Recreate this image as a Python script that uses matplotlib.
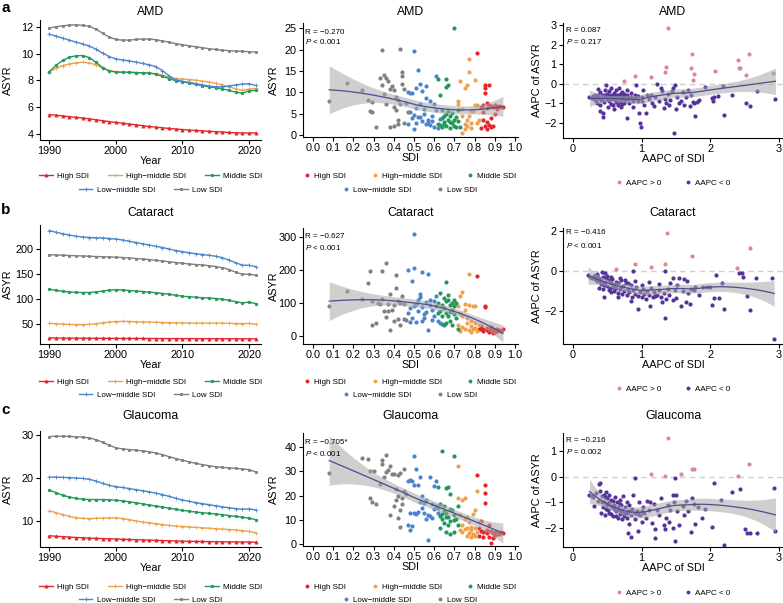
import numpy as np
import matplotlib
matplotlib.use('Agg')
import matplotlib.pyplot as plt
from matplotlib.lines import Line2D

plt.rcParams['font.family'] = ['Liberation Sans', 'DejaVu Sans']
plt.rcParams['mathtext.fontset'] = 'custom'
plt.rcParams['mathtext.it'] = 'Liberation Sans:italic'
plt.rcParams['mathtext.rm'] = 'Liberation Sans'

# ---------------- data ----------------
years = list(range(1990, 2022))
groups = ['High SDI', 'High\u2212middle SDI', 'Middle SDI', 'Low\u2212middle SDI', 'Low SDI']

amd_high = [5.45,5.40,5.35,5.29,5.24,5.19,5.13,5.06,4.99,4.92,4.86,4.80,4.74,4.68,4.62,4.56,4.51,4.46,4.41,4.37,4.33,4.29,4.26,4.23,4.20,4.17,4.14,4.11,4.09,4.07,4.07,4.08]
amd_hm = [8.65,8.90,9.10,9.22,9.30,9.35,9.30,9.15,8.92,8.72,8.65,8.62,8.60,8.57,8.55,8.55,8.50,8.38,8.24,8.13,8.10,8.06,8.01,7.94,7.87,7.78,7.66,7.52,7.37,7.25,7.35,7.40]
amd_mid = [8.65,9.12,9.48,9.72,9.83,9.85,9.70,9.35,8.95,8.70,8.62,8.60,8.60,8.58,8.56,8.54,8.45,8.30,8.12,7.97,7.90,7.80,7.70,7.60,7.52,7.45,7.36,7.25,7.12,7.05,7.22,7.25]
amd_lm = [11.45,11.30,11.15,11.00,10.85,10.72,10.56,10.32,10.03,9.77,9.60,9.52,9.45,9.36,9.26,9.16,9.02,8.73,8.33,8.03,7.92,7.85,7.76,7.66,7.57,7.52,7.52,7.57,7.66,7.72,7.75,7.62]
amd_low = [11.90,12.00,12.06,12.12,12.14,12.10,12.03,11.82,11.52,11.22,11.05,11.00,11.00,11.05,11.08,11.08,11.03,10.94,10.84,10.74,10.65,10.58,10.50,10.43,10.36,10.30,10.25,10.21,10.19,10.16,10.14,10.10]

cat_high = [22.2,22.0,21.9,21.8,21.7,21.6,21.5,21.5,21.4,21.4,21.3,21.2,21.2,21.1,21.1,21.0,21.0,20.9,20.9,20.8,20.8,20.7,20.7,20.6,20.6,20.5,20.5,20.4,20.4,20.3,20.4,20.3]
cat_hm = [51.5,50.6,49.8,49.2,48.9,48.8,49.2,50.5,52.3,54.0,55.0,55.2,55.0,54.6,54.2,53.8,53.4,53.0,52.6,52.3,52.0,51.9,51.8,51.8,51.8,51.8,51.7,51.4,51.0,50.8,51.2,49.5]
cat_mid = [119.5,117.5,115.5,114.0,113.2,113.0,113.0,114.0,116.0,117.8,118.5,118.0,117.0,116.0,115.0,113.8,112.5,111.0,109.5,107.5,105.5,104.5,103.5,102.5,101.8,101.0,99.5,97.5,94.5,92.5,93.5,91.0]
cat_lm = [237.0,233.5,230.5,228.0,225.5,224.0,223.0,222.5,222.0,221.0,220.0,218.0,215.5,213.0,210.5,208.0,205.5,203.0,200.0,197.0,194.5,192.5,190.5,189.0,187.5,185.5,182.5,178.0,172.5,167.5,167.5,165.0]
cat_low = [188.5,188.0,187.5,187.0,186.5,186.0,185.5,185.0,184.5,184.0,183.5,183.0,182.0,181.0,180.0,179.0,177.5,176.0,174.5,173.0,171.5,170.0,169.0,168.0,166.5,165.0,162.5,159.0,153.5,149.5,149.5,147.5]

gla_high = [6.6,6.5,6.4,6.3,6.2,6.15,6.05,6.0,5.95,5.9,5.85,5.8,5.75,5.7,5.65,5.6,5.55,5.5,5.45,5.4,5.35,5.32,5.3,5.28,5.25,5.22,5.2,5.18,5.16,5.15,5.15,5.1]
gla_hm = [12.4,11.95,11.5,11.1,10.8,10.65,10.6,10.65,10.7,10.75,10.75,10.6,10.35,10.05,9.8,9.6,9.4,9.2,9.0,8.85,8.75,8.65,8.55,8.45,8.35,8.25,8.15,8.05,7.95,7.8,7.6,7.3]
gla_mid = [17.2,16.6,16.0,15.6,15.25,15.1,15.0,15.0,15.0,14.95,14.85,14.7,14.5,14.25,14.0,13.75,13.5,13.25,13.0,12.75,12.5,12.3,12.1,11.95,11.8,11.65,11.5,11.3,11.1,10.9,10.7,10.35]
gla_lm = [20.2,20.2,20.15,20.1,20.0,19.9,19.7,19.3,18.75,18.3,18.0,17.8,17.55,17.3,17.05,16.8,16.5,16.15,15.75,15.3,14.9,14.6,14.3,14.05,13.8,13.55,13.3,13.1,12.9,12.75,12.85,12.6]
gla_low = [29.6,29.7,29.7,29.65,29.55,29.5,29.3,28.9,28.3,27.6,27.0,26.75,26.6,26.45,26.3,26.1,25.8,25.4,24.95,24.5,24.1,23.75,23.4,23.1,22.85,22.6,22.45,22.35,22.25,22.1,21.95,21.4]

# SDI vs ASYR scatter (SDI, ASYR) per SDI group
amd_sc_high = [(0.81,19.2),(0.83,6.6),(0.84,7.0),(0.84,3.6),(0.85,11.7),(0.85,10.9),(0.85,9.8),(0.85,2.2),(0.86,7.5),(0.86,6.2),(0.87,7.0),(0.87,11.8),(0.87,2.4),(0.88,6.8),(0.88,4.0),(0.89,6.6),(0.89,2.1),(0.90,6.9),(0.90,4.8),(0.91,6.5),(0.91,6.0),(0.92,6.7),(0.93,6.5),(0.94,6.5),(0.83,1.6),(0.86,1.5),(0.88,1.9),(0.84,5.4),(0.86,3.0)]
amd_sc_hm = [(0.72,8.0),(0.72,7.2),(0.73,12.6),(0.74,6.1),(0.74,0.5),(0.75,11.0),(0.75,2.6),(0.76,11.6),(0.76,2.2),(0.77,17.8),(0.77,14.8),(0.77,4.4),(0.78,1.6),(0.78,2.9),(0.79,5.6),(0.80,7.0),(0.80,12.9),(0.81,7.1),(0.81,2.7),(0.82,3.6),(0.74,4.4),(0.76,3.5),(0.78,5.5),(0.75,1.3)]
amd_sc_mid = [(0.62,13.2),(0.63,9.3),(0.63,2.4),(0.64,4.0),(0.64,1.8),(0.65,3.1),(0.65,4.5),(0.66,13.0),(0.66,11.3),(0.66,2.2),(0.67,5.6),(0.67,3.5),(0.67,11.6),(0.68,1.6),(0.68,4.4),(0.69,2.8),(0.69,5.2),(0.70,25.0),(0.70,3.6),(0.71,4.2),(0.71,1.8),(0.72,3.2),(0.65,2.6),(0.66,4.8),(0.68,3.0),(0.70,2.2),(0.64,5.8),(0.62,2.6),(0.72,5.8),(0.73,1.9)]
amd_sc_lm = [(0.47,10.0),(0.48,9.8),(0.48,5.4),(0.49,3.9),(0.50,19.6),(0.50,4.6),(0.51,11.0),(0.51,2.7),(0.52,15.3),(0.52,4.1),(0.53,12.0),(0.53,4.2),(0.54,10.2),(0.54,3.2),(0.55,6.0),(0.55,5.0),(0.56,11.4),(0.56,8.6),(0.57,3.4),(0.57,2.9),(0.58,7.9),(0.58,2.3),(0.59,3.3),(0.60,7.2),(0.61,13.8),(0.61,5.8),(0.62,1.7),(0.63,3.8),(0.46,7.6),(0.47,2.6),(0.49,9.9),(0.51,6.2),(0.53,7.2),(0.56,2.5),(0.59,4.5),(0.60,1.9),(0.50,1.4)]
amd_sc_low = [(0.08,8.0),(0.17,12.2),(0.24,10.6),(0.27,8.2),(0.28,5.6),(0.29,5.4),(0.29,7.7),(0.31,1.8),(0.33,13.3),(0.34,19.8),(0.34,11.7),(0.35,14.1),(0.35,9.6),(0.36,13.4),(0.36,7.2),(0.37,12.6),(0.38,10.7),(0.38,1.8),(0.39,11.4),(0.40,10.5),(0.40,6.5),(0.41,9.0),(0.41,5.8),(0.42,8.2),(0.42,3.6),(0.43,20.2),(0.43,7.2),(0.44,14.8),(0.44,12.0),(0.44,13.9),(0.45,2.8),(0.45,10.8),(0.40,2.0),(0.42,2.5),(0.47,5.4)]

cat_sc_high = [(0.81,183),(0.82,20),(0.83,30),(0.84,22),(0.85,92),(0.85,88),(0.86,18),(0.86,25),(0.87,20),(0.88,15),(0.88,28),(0.89,10),(0.89,22),(0.90,18),(0.90,12),(0.91,22),(0.92,18),(0.93,15),(0.94,20),(0.84,15),(0.87,12),(0.91,16),(0.83,22)]
cat_sc_hm = [(0.72,92),(0.72,35),(0.73,120),(0.73,15),(0.74,133),(0.74,28),(0.75,98),(0.75,22),(0.76,40),(0.77,187),(0.77,95),(0.77,18),(0.78,30),(0.78,45),(0.79,90),(0.79,20),(0.80,25),(0.80,92),(0.81,15),(0.82,35),(0.74,60),(0.76,55),(0.78,12),(0.80,40),(0.73,70),(0.75,80)]
cat_sc_mid = [(0.62,100),(0.63,130),(0.63,75),(0.64,38),(0.64,60),(0.65,115),(0.65,85),(0.66,165),(0.66,70),(0.66,40),(0.67,110),(0.67,62),(0.67,125),(0.68,95),(0.68,45),(0.69,100),(0.69,80),(0.69,35),(0.70,92),(0.70,68),(0.71,100),(0.71,55),(0.72,20),(0.64,95),(0.66,105),(0.68,72),(0.70,108),(0.65,35),(0.62,70)]
cat_sc_lm = [(0.47,200),(0.48,85),(0.48,42),(0.49,168),(0.50,308),(0.50,207),(0.50,90),(0.51,98),(0.51,42),(0.52,75),(0.53,128),(0.53,118),(0.54,195),(0.54,88),(0.55,67),(0.55,55),(0.56,102),(0.57,187),(0.57,18),(0.58,108),(0.58,95),(0.59,80),(0.59,48),(0.60,62),(0.61,120),(0.61,90),(0.62,45),(0.63,40),(0.47,70),(0.49,55),(0.52,110),(0.56,72),(0.60,105),(0.54,45)]
cat_sc_low = [(0.08,90),(0.17,137),(0.24,113),(0.27,162),(0.28,197),(0.29,105),(0.29,32),(0.31,40),(0.33,97),(0.34,196),(0.34,112),(0.35,75),(0.36,222),(0.36,58),(0.37,97),(0.38,127),(0.38,18),(0.39,80),(0.40,45),(0.41,185),(0.41,145),(0.42,105),(0.42,53),(0.43,32),(0.43,100),(0.44,120),(0.45,52),(0.45,98),(0.46,48),(0.40,95),(0.37,75),(0.32,100)]

gla_sc_high = [(0.81,28.5),(0.82,6.5),(0.82,3.5),(0.83,9.5),(0.84,5.0),(0.84,3.0),(0.85,24.5),(0.85,21.0),(0.85,16.8),(0.86,6.0),(0.86,4.5),(0.87,8.0),(0.87,3.0),(0.88,0.6),(0.88,5.5),(0.89,4.5),(0.89,2.5),(0.90,5.0),(0.91,4.5),(0.92,4.0),(0.93,4.8),(0.94,4.5),(0.83,5.5),(0.86,5.3),(0.90,3.8)]
gla_sc_hm = [(0.72,32.0),(0.72,19.0),(0.73,6.0),(0.73,12.0),(0.74,18.0),(0.74,5.0),(0.75,18.8),(0.75,10.5),(0.76,6.5),(0.76,3.5),(0.77,9.0),(0.77,4.5),(0.78,7.0),(0.78,5.8),(0.79,12.5),(0.79,4.0),(0.80,14.0),(0.80,6.5),(0.81,21.8),(0.81,5.0),(0.82,9.0),(0.74,8.0),(0.76,11.0),(0.78,3.0),(0.80,3.2),(0.75,6.2)]
gla_sc_mid = [(0.62,23.5),(0.63,16.5),(0.63,6.8),(0.64,38.3),(0.64,10.5),(0.65,15.8),(0.65,8.5),(0.66,23.0),(0.66,13.0),(0.66,5.0),(0.67,23.5),(0.67,11.0),(0.68,20.5),(0.68,9.5),(0.68,4.2),(0.69,14.0),(0.70,36.5),(0.70,12.0),(0.70,4.8),(0.71,10.2),(0.72,15.5),(0.72,8.0),(0.64,12.5),(0.66,11.0),(0.68,14.5),(0.70,10.0),(0.65,13.5),(0.63,11.5),(0.67,8.0)]
gla_sc_lm = [(0.47,26.0),(0.47,8.0),(0.48,26.5),(0.48,5.8),(0.49,26.0),(0.49,7.6),(0.50,36.5),(0.50,24.5),(0.50,13.0),(0.51,31.0),(0.51,12.5),(0.52,24.5),(0.53,27.8),(0.53,17.5),(0.54,15.0),(0.55,13.0),(0.56,18.0),(0.56,10.5),(0.57,1.5),(0.58,27.5),(0.58,11.5),(0.59,16.5),(0.59,10.8),(0.60,24.0),(0.61,25.8),(0.61,15.5),(0.62,15.0),(0.62,13.0),(0.48,12.7),(0.52,13.2),(0.55,17.0),(0.57,12.0),(0.60,14.5),(0.54,20.0)]
gla_sc_low = [(0.08,29.5),(0.24,35.5),(0.27,35.0),(0.28,18.8),(0.28,30.0),(0.29,17.3),(0.30,30.0),(0.31,16.4),(0.33,24.8),(0.34,34.5),(0.34,33.0),(0.35,27.8),(0.36,29.9),(0.36,36.8),(0.37,30.5),(0.38,32.0),(0.38,12.0),(0.39,29.0),(0.40,28.8),(0.41,22.5),(0.41,18.0),(0.42,28.5),(0.42,10.8),(0.43,29.5),(0.43,14.0),(0.43,7.0),(0.44,19.0),(0.44,16.5),(0.45,31.0),(0.45,22.0),(0.46,20.5),(0.42,20.0),(0.40,15.5)]

# AAPC of SDI vs AAPC of ASYR
amd_ap_pos = [(0.74,0.15),(0.91,0.38),(1.14,0.32),(1.34,0.62),(1.35,0.87),(1.38,2.85),(1.72,0.78),(1.74,1.53),(1.75,0.2),(1.76,0.52),(2.07,0.65),(2.40,1.2),(2.42,0.8),(2.44,0.78),(2.52,0.45),(2.57,1.53),(2.91,0.54)]
amd_ap_neg = [(0.24,-0.68),(0.27,-0.72),(0.29,-0.65),(0.30,-0.8),(0.32,-0.55),(0.33,-0.9),(0.34,-0.7),(0.35,-1.0),(0.36,-0.25),(0.37,-0.6),(0.38,-0.75),(0.39,-1.1),(0.40,-0.4),(0.40,-1.4),(0.41,-0.85),(0.42,-0.6),(0.43,-1.5),(0.44,-1.7),(0.45,-0.95),(0.46,-0.3),(0.47,-0.65),(0.48,-0.05),(0.49,-0.8),(0.50,-0.5),(0.51,-1.2),(0.52,-0.9),(0.53,-0.35),(0.54,-0.7),(0.55,-0.2),(0.56,-1.05),(0.57,-0.6),(0.58,-0.8),(0.59,-0.45),(0.60,-1.3),(0.61,-0.7),(0.62,-0.9),(0.63,-0.3),(0.64,-0.55),(0.65,-1.1),(0.66,-0.75),(0.67,-0.2),(0.68,-0.95),(0.69,-0.6),(0.70,-1.2),(0.71,-0.4),(0.72,-0.8),(0.73,-0.65),(0.74,-1.0),(0.75,-0.5),(0.76,-0.85),(0.78,-0.3),(0.79,-1.75),(0.80,-0.7),(0.82,-1.0),(0.84,-0.45),(0.86,-0.8),(0.88,-1.2),(0.90,-0.6),(0.92,-0.05),(0.94,-0.9),(0.96,-1.5),(0.97,-2.0),(0.99,-2.2),(1.00,-0.7),(1.02,-0.3),(1.04,-1.1),(1.06,-1.5),(1.08,-0.6),(1.10,-0.8),(1.13,-0.55),(1.15,-1.0),(1.18,-1.15),(1.20,-0.7),(1.22,-0.02),(1.25,-0.9),(1.28,-0.2),(1.30,-0.35),(1.32,-1.25),(1.34,-0.8),(1.36,-1.0),(1.38,-0.5),(1.40,-1.1),(1.42,-0.85),(1.44,-0.35),(1.46,-0.2),(1.47,-2.5),(1.48,-0.05),(1.50,-1.3),(1.52,-0.7),(1.55,-1.0),(1.58,-0.9),(1.60,-0.4),(1.62,-1.1),(1.65,-0.7),(1.68,-0.3),(1.70,-1.15),(1.72,-0.6),(1.75,-0.95),(1.77,-1.0),(1.78,-1.65),(1.80,-0.95),(1.84,-0.85),(1.92,-0.15),(2.02,-0.75),(2.04,-0.9),(2.06,-0.7),(2.12,-0.65),(2.18,-0.1),(2.20,-1.6),(2.32,-0.55),(2.52,-1.0),(2.58,-1.15),(2.68,-0.35),(2.95,-0.8),(0.45,-0.6),(0.50,-0.7),(0.55,-0.75),(0.60,-0.65),(0.65,-0.7),(0.70,-0.75),(0.75,-0.7),(0.80,-0.8),(0.85,-0.7),(0.90,-0.75),(0.95,-0.65),(1.00,-0.9),(0.62,-0.95),(0.72,-1.05),(0.52,-0.55),(0.42,-0.8),(0.58,-1.1),(0.68,-0.5),(0.78,-0.6),(0.88,-0.9)]

cat_ap_pos = [(0.62,0.08),(0.90,0.35),(1.13,0.22),(1.34,0.33),(1.37,1.88),(1.74,0.77),(2.39,0.15),(2.58,1.15)]
cat_ap_neg = [(1.34,-2.35),(0.95,-1.9),(2.93,-3.4),(2.58,-1.95),(2.20,-1.9),(2.03,-1.7),(2.53,-1.25),(0.88,0.0),(1.34,0.0),(2.42,-0.12),(2.46,-0.12),(2.48,-0.28),(2.67,-0.35),(2.90,-0.35),(2.08,-0.2),(2.17,-0.62),(1.55,-0.35),(1.62,-0.4),(1.66,-0.5),(1.72,-0.9),(1.78,-0.8),(1.84,-1.2),(1.90,-0.8),(1.95,-0.8),(2.00,-0.8),(2.05,-1.35),(2.13,-1.35),(1.45,-1.45),(1.50,-1.35),(1.58,-1.75),(1.65,-1.55),(1.70,-1.65),(1.12,-1.75),(1.30,-1.55),(1.20,-1.25),(0.45,-1.3),(0.38,-0.5),(0.42,-0.05),(0.47,-0.1),(0.55,-1.05),(0.22,-0.2),(0.25,-0.3),(0.28,-0.35),(0.30,-0.25),(0.32,-0.4),(0.33,-0.2),(0.35,-0.5),(0.36,-0.3),(0.38,-0.85),(0.40,-0.4),(0.41,-0.65),(0.43,-0.3),(0.44,-0.9),(0.46,-0.55),(0.48,-0.35),(0.50,-0.75),(0.52,-0.45),(0.53,-0.95),(0.55,-0.6),(0.57,-0.4),(0.58,-0.8),(0.60,-1.0),(0.62,-0.55),(0.63,-0.85),(0.65,-1.1),(0.66,-0.6),(0.68,-0.9),(0.70,-0.45),(0.72,-1.15),(0.73,-0.75),(0.75,-1.0),(0.77,-0.6),(0.78,-1.2),(0.80,-0.9),(0.82,-1.05),(0.84,-0.7),(0.86,-1.3),(0.88,-0.95),(0.90,-1.15),(0.92,-0.8),(0.95,-1.25),(0.97,-1.05),(1.00,-1.3),(1.02,-0.9),(1.04,-1.15),(1.06,-1.4),(1.08,-1.0),(1.10,-1.2),(1.14,-0.85),(1.16,-1.3),(1.18,-1.05),(1.22,-1.2),(1.25,-0.95),(1.28,-1.3),(1.32,-1.1),(1.35,-1.4),(1.38,-0.9),(1.40,-1.2),(1.42,-0.6),(1.48,-0.95),(1.52,-0.7),(1.60,-1.0),(1.68,-1.1),(1.76,-0.95),(1.45,-0.35),(0.56,-0.3),(0.68,-0.35),(0.76,-0.45),(0.60,-0.7),(0.70,-0.8),(0.80,-0.6),(0.90,-0.5),(1.00,-0.7),(0.85,-1.5),(0.65,-1.3),(0.50,-0.25),(0.45,-0.7),(0.35,-0.15),(0.42,-0.55),(0.54,-0.85),(1.10,-0.55),(1.26,-0.65)]

gla_ap_pos = [(1.14,0.1),(1.34,0.02),(1.38,1.5),(1.58,0.12),(1.74,0.3),(1.76,0.3),(2.40,0.02),(2.57,0.5)]
gla_ap_neg = [(0.24,-0.7),(0.27,-0.75),(0.29,-0.8),(0.31,-1.15),(0.33,-0.65),(0.36,-0.95),(0.38,-0.3),(0.39,-0.25),(0.40,-0.55),(0.41,-1.4),(0.42,-1.0),(0.44,-1.2),(0.45,-0.7),(0.46,-0.8),(0.47,-1.5),(0.48,-0.6),(0.49,-1.05),(0.50,-0.85),(0.51,-1.3),(0.52,-0.7),(0.53,-1.0),(0.55,-1.45),(0.56,-0.9),(0.57,-1.2),(0.58,-1.55),(0.60,-1.1),(0.61,-0.8),(0.62,-1.35),(0.64,-1.0),(0.65,-1.6),(0.66,-1.2),(0.68,-0.9),(0.69,-1.45),(0.70,-1.1),(0.72,-1.3),(0.73,-0.75),(0.75,-1.55),(0.76,-1.2),(0.78,-1.0),(0.79,-1.4),(0.80,-2.2),(0.81,-1.85),(0.82,-1.1),(0.84,-1.5),(0.85,-2.35),(0.86,-1.25),(0.88,-0.7),(0.90,-0.05),(0.91,-1.65),(0.93,-1.35),(0.95,-2.1),(0.96,-1.0),(0.98,-1.5),(1.00,-1.75),(1.02,-1.2),(1.04,-1.4),(1.06,-1.6),(1.08,-0.95),(1.10,-1.3),(1.12,-1.0),(1.15,-1.8),(1.18,-1.05),(1.20,-2.4),(1.20,-2.05),(1.22,-1.3),(1.25,-1.5),(1.28,-0.85),(1.32,-1.9),(1.34,-2.05),(1.36,-1.6),(1.38,-1.1),(1.40,-1.75),(1.42,-1.3),(1.45,-2.0),(1.47,-1.0),(1.48,-2.5),(1.50,-0.7),(1.52,-1.35),(1.55,-1.9),(1.60,-1.15),(1.62,-1.5),(1.65,-0.95),(1.68,-1.35),(1.72,-2.15),(1.74,-0.85),(1.76,-1.05),(1.78,-1.85),(1.82,-1.2),(1.88,-1.6),(1.92,-1.25),(2.02,-1.95),(2.06,-0.25),(2.15,-0.9),(2.20,-2.65),(2.32,-0.6),(2.44,-0.5),(2.50,-2.05),(2.54,-2.2),(2.58,-2.2),(2.68,-2.2),(2.93,-0.45),(2.95,-2.1),(1.48,-0.05),(1.45,-0.7),(0.45,-1.0),(0.50,-1.1),(0.55,-1.15),(0.60,-1.25),(0.65,-1.3),(0.70,-1.35),(0.75,-1.4),(0.80,-1.35),(0.85,-1.3),(0.90,-1.4),(0.95,-1.45),(1.00,-1.35),(0.58,-0.95),(0.68,-1.05),(0.78,-1.6),(0.48,-1.25),(0.62,-1.55),(0.72,-1.65),(0.52,-1.4),(0.42,-0.75)]

diseases = ['AMD', 'Cataract', 'Glaucoma']
r_texts = ['R = \u22120.270', 'R = \u22120.627', 'R = \u22120.705*']
p_texts = [r'$\it{P}$ < 0.001', r'$\it{P}$ < 0.001', r'$\it{P}$ < 0.001']
r2_texts = ['R = 0.087', 'R = \u22120.416', 'R = \u22120.216']
p2_texts = [r'$\it{P}$ = 0.217', r'$\it{P}$ < 0.001', r'$\it{P}$ = 0.002']

lines_data = [[amd_high, amd_hm, amd_mid, amd_lm, amd_low],
              [cat_high, cat_hm, cat_mid, cat_lm, cat_low],
              [gla_high, gla_hm, gla_mid, gla_lm, gla_low]]
scat_data = [[amd_sc_high, amd_sc_hm, amd_sc_mid, amd_sc_lm, amd_sc_low],
             [cat_sc_high, cat_sc_hm, cat_sc_mid, cat_sc_lm, cat_sc_low],
             [gla_sc_high, gla_sc_hm, gla_sc_mid, gla_sc_lm, gla_sc_low]]
aapc_data = [[amd_ap_pos, amd_ap_neg], [cat_ap_pos, cat_ap_neg], [gla_ap_pos, gla_ap_neg]]

# ---------------- style ----------------
colors = ['#E3262B', '#EFA24E', '#21995A', '#4A86CF', '#808080']
markers = ['^', '+', 'o', '+', 's']
pos_col, neg_col = '#D9899A', '#553399'
band_col, fit_col = '#A9A9A9', '#4B4F8C'

W, H = 783, 603
fig = plt.figure(figsize=(W/100, H/100), dpi=100)

def rect(l, t, r, b):
    return [l/W, 1 - b/H, (r - l)/W, (b - t)/H]

def fx(x):
    return x / W

def fy(y):
    return 1 - y / H

row_geom = [
    [(20, 140), (23, 137), (23, 138)],
    [(225, 344), (228, 344), (228, 344)],
    [(431, 547), (433, 546), (433, 547)],
]
col_x = [(40, 261), (303, 518), (563, 783)]
ylims1 = [(3.55, 12.5), (10, 248), (4, 30.9)]
yticks1 = [[4, 6, 8, 10, 12], [50, 100, 150, 200], [10, 20, 30]]
ylims2 = [(-0.47, 26.2), (-24, 327), (-0.8, 45.8)]
yticks2 = [[0, 5, 10, 15, 20, 25], [0, 100, 200, 300], [0, 10, 20, 30, 40]]
ylims3 = [(-2.77, 3.1), (-3.65, 2.15), (-2.74, 1.70)]
yticks3 = [[-2, -1, 0, 1, 2, 3], [-2, 0, 2], [-2, -1, 0, 1]]
title_y = [12, 213, 416]
letter_y = [8, 210, 410]
leg_y = [(176, 190), (382, 395), (587, 600)]
leg3_y = [183, 389, 593]
rtext_y = [(32, 42), (237, 247), (443, 453)]
r2text_y = [(31, 41), (232, 246), (440, 451)]

TICK = 7.8
LAB = 7.8
LEG = 5.8
TTL = 8.8
RT = 5.8

def style_ax(ax):
    for s in ['top', 'right']:
        ax.spines[s].set_visible(False)
    for s in ['left', 'bottom']:
        ax.spines[s].set_linewidth(0.8)
    ax.tick_params(length=3, width=0.8, labelsize=TICK, pad=1.5, colors='black')

def loess(x, y, xs, span=0.75):
    x = np.asarray(x, float); y = np.asarray(y, float)
    n = len(x); q = int(np.floor(span * n))
    def lrow(x0):
        d = np.abs(x - x0)
        h = np.sort(d)[q - 1]
        if span > 1:
            h = h * span
        u = np.clip(d / h, 0, 1)
        w = (1 - u**3)**3
        X = np.column_stack([np.ones(n), x - x0, (x - x0)**2])
        XtW = X.T * w
        A = XtW @ X
        return np.linalg.solve(A, XtW)[0]
    L = np.array([lrow(x0) for x0 in x])
    res = y - L @ y
    M = np.eye(n) - L
    d1 = np.trace(M.T @ M)
    sigma = np.sqrt(np.sum(res**2) / d1)
    Ls = np.array([lrow(x0) for x0 in xs])
    fit = Ls @ y
    se = sigma * np.sqrt(np.sum(Ls**2, axis=1))
    return fit, se

def draw_fit(ax, xs_all, ys_all, span):
    xg = np.linspace(min(xs_all), max(xs_all), 120)
    fit, se = loess(xs_all, ys_all, xg, span)
    ax.fill_between(xg, fit - 1.97*se, fit + 1.97*se, color=band_col, alpha=0.55, lw=0, zorder=3)
    ax.plot(xg, fit, color=fit_col, lw=0.9, zorder=4)

def two_row_legend(ax, handles, labels, y1, y2, xc, hl, cs):
    kw = dict(loc='center', bbox_transform=fig.transFigure, frameon=False, fontsize=LEG,
              handlelength=hl, handletextpad=0.5, columnspacing=cs, borderpad=0, borderaxespad=0)
    l1 = ax.legend(handles[:3], labels[:3], bbox_to_anchor=(fx(xc), fy(y1)), ncol=3, **kw)
    ax.add_artist(l1)
    ax.legend(handles[3:], labels[3:], bbox_to_anchor=(fx(xc), fy(y2)), ncol=2, **kw)

for i in range(3):
    # ---------- column 1: trends ----------
    t, b = row_geom[i][0]
    l, r = col_x[0]
    ax = fig.add_axes(rect(l, t, r, b))
    style_ax(ax)
    handles = []
    for g in range(5):
        ms = 2.2 if markers[g] == '^' else (2.6 if markers[g] == '+' else 1.8)
        ln, = ax.plot(years, lines_data[i][g], color=colors[g], lw=1.0, marker=markers[g],
                      ms=ms, mew=0.6)
        handles.append(ln)
    ax.set_xlim(1988.6, 2021.8)
    ax.set_xticks([1990, 2000, 2010, 2020])
    ax.set_ylim(*ylims1[i])
    ax.set_yticks(yticks1[i])
    ax.set_xlabel('Year', fontsize=LAB, labelpad=0)
    ax.set_ylabel('ASYR', fontsize=LAB)
    ax.yaxis.set_label_coords((13 - l) / (r - l), 0.5)
    two_row_legend(ax, handles, groups, leg_y[i][0], leg_y[i][1], (l + r) / 2, 1.7, 2.4)
    fig.text(fx((l + r) / 2), fy(title_y[i]), diseases[i], ha='center', va='center', fontsize=TTL)
    fig.text(fx(1), fy(letter_y[i]), 'abc'[i], ha='left', va='center', fontsize=11, fontweight='bold')

    # ---------- column 2: SDI vs ASYR ----------
    t, b = row_geom[i][1]
    l, r = col_x[1]
    ax = fig.add_axes(rect(l, t, r, b))
    style_ax(ax)
    xs_all, ys_all = [], []
    handles = []
    for g in range(5):
        pts = np.array(scat_data[i][g])
        ax.scatter(pts[:, 0], pts[:, 1], s=9, color=colors[g], lw=0, zorder=2)
        xs_all += list(pts[:, 0]); ys_all += list(pts[:, 1])
        handles.append(Line2D([], [], ls='none', marker='o', ms=2.8, color=colors[g], mew=0))
    draw_fit(ax, xs_all, ys_all, 1.0)
    ax.set_xlim(-0.05, 1.015)
    ax.set_xticks(np.round(np.arange(0, 1.01, 0.1), 1))
    ax.set_xticklabels(['%.1f' % v for v in np.arange(0, 1.01, 0.1)])
    ax.set_ylim(*ylims2[i])
    ax.set_yticks(yticks2[i])
    ax.set_xlabel('SDI', fontsize=LAB, labelpad=0)
    ax.set_ylabel('ASYR', fontsize=LAB)
    ax.yaxis.set_label_coords((279 - l) / (r - l), 0.5)
    two_row_legend(ax, handles, groups, leg_y[i][0], leg_y[i][1], (l + r) / 2, 0.7, 3.2)
    fig.text(fx((l + r) / 2), fy(title_y[i]), diseases[i], ha='center', va='center', fontsize=TTL)
    fig.text(fx(305), fy(rtext_y[i][0]), r_texts[i], ha='left', va='center', fontsize=RT)
    fig.text(fx(305), fy(rtext_y[i][1]), p_texts[i], ha='left', va='center', fontsize=RT)

    # ---------- column 3: AAPC ----------
    t, b = row_geom[i][2]
    l, r = col_x[2]
    ax = fig.add_axes(rect(l, t, r, b))
    style_ax(ax)
    pos = np.array(aapc_data[i][0]); neg = np.array(aapc_data[i][1])
    ax.axhline(0, color='#CFCFCF', lw=1.0, ls=(0, (4, 3)), zorder=1)
    ax.scatter(pos[:, 0], pos[:, 1], s=9, color=pos_col, lw=0, zorder=2)
    ax.scatter(neg[:, 0], neg[:, 1], s=9, color=neg_col, lw=0, zorder=2)
    xs_all = list(pos[:, 0]) + list(neg[:, 0])
    ys_all = list(pos[:, 1]) + list(neg[:, 1])
    draw_fit(ax, xs_all, ys_all, 0.75)
    ax.set_xlim(-0.146, 3.06)
    ax.set_xticks([0, 1, 2, 3])
    ax.set_ylim(*ylims3[i])
    ax.set_yticks(yticks3[i])
    ax.set_xlabel('AAPC of SDI', fontsize=LAB, labelpad=0)
    ax.set_ylabel('AAPC of ASYR', fontsize=LAB)
    ax.yaxis.set_label_coords((542 - l) / (r - l), 0.5)
    h3 = [Line2D([], [], ls='none', marker='o', ms=2.8, color=pos_col, mew=0),
          Line2D([], [], ls='none', marker='o', ms=2.8, color=neg_col, mew=0)]
    ax.legend(h3, ['AAPC > 0', 'AAPC < 0'], loc='center', bbox_to_anchor=(fx((l + r) / 2), fy(leg3_y[i])),
              bbox_transform=fig.transFigure, ncol=2, frameon=False, fontsize=LEG,
              handlelength=0.7, handletextpad=0.5, columnspacing=3.0, borderpad=0, borderaxespad=0)
    fig.text(fx((l + r) / 2), fy(title_y[i]), diseases[i], ha='center', va='center', fontsize=TTL)
    fig.text(fx(566), fy(r2text_y[i][0]), r2_texts[i], ha='left', va='center', fontsize=RT)
    fig.text(fx(566), fy(r2text_y[i][1]), p2_texts[i], ha='left', va='center', fontsize=RT)

fig.savefig('out.png', dpi=100)
